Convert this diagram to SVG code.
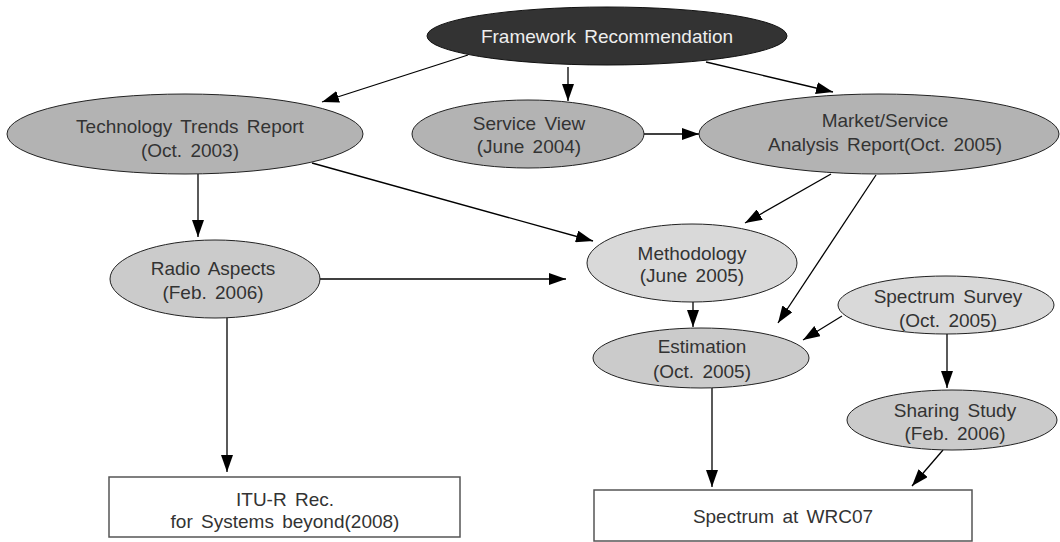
<svg xmlns="http://www.w3.org/2000/svg" width="1060" height="542" viewBox="0 0 1060 542">
<style>
text{font-family:"Liberation Sans",Arial,sans-serif;font-size:19px;word-spacing:3px;fill:#333;text-anchor:middle}
.dark{fill:#333;stroke:#111;stroke-width:1}
.mid{fill:#b3b3b3;stroke:#222;stroke-width:1}
.soft{fill:#cbcbcb;stroke:#222;stroke-width:1}
.light{fill:#d9d9d9;stroke:#222;stroke-width:1}
.box{fill:#fff;stroke:#555;stroke-width:1.5}
.w{fill:#eee}
#connectors line{stroke:#000;stroke-width:1.3;marker-end:url(#ah)}
</style>
<defs>
<marker id="ah" markerUnits="userSpaceOnUse" markerWidth="17" markerHeight="12" refX="17" refY="6" orient="auto">
<path d="M0,0 L17,6 L0,12 z" fill="#000"/>
</marker>
</defs>
<rect width="1060" height="542" fill="#fff"/>
<g id="connectors">
<line x1="468" y1="55" x2="322" y2="102"/>
<line x1="568" y1="67" x2="568" y2="101"/>
<line x1="706" y1="62" x2="833" y2="92"/>
<line x1="644" y1="134" x2="699" y2="134"/>
<line x1="198" y1="174" x2="198" y2="237"/>
<line x1="312" y1="163" x2="593" y2="241"/>
<line x1="831" y1="174" x2="745" y2="223"/>
<line x1="876" y1="175" x2="778" y2="323"/>
<line x1="319" y1="279" x2="566" y2="279"/>
<line x1="693" y1="302" x2="693" y2="327"/>
<line x1="842" y1="316" x2="803" y2="340"/>
<line x1="947" y1="334" x2="947" y2="388"/>
<line x1="712" y1="388" x2="712" y2="487"/>
<line x1="943" y1="450" x2="912" y2="486"/>
<line x1="227" y1="318" x2="227" y2="472"/>
</g>
<g id="framework">
<ellipse class="dark" cx="607" cy="36" rx="180" ry="29"/>
<text class="w" x="607" y="42.5">Framework Recommendation</text>
</g>
<g id="tech">
<ellipse class="mid" cx="185" cy="134" rx="178" ry="40"/>
<text x="190" y="133">Technology Trends Report</text>
<text x="190" y="157">(Oct. 2003)</text>
</g>
<g id="service">
<ellipse class="mid" cx="528" cy="134" rx="116" ry="34"/>
<text x="529" y="130">Service View</text>
<text x="529" y="153">(June 2004)</text>
</g>
<g id="market">
<ellipse class="mid" cx="879" cy="134" rx="180" ry="40"/>
<text x="885" y="127">Market/Service</text>
<text x="885" y="151">Analysis Report(Oct. 2005)</text>
</g>
<g id="methodology">
<ellipse class="light" cx="692" cy="263" rx="105" ry="39"/>
<text x="692" y="260">Methodology</text>
<text x="692" y="282">(June 2005)</text>
</g>
<g id="radio">
<ellipse class="soft" cx="215" cy="279" rx="105" ry="39"/>
<text x="213" y="275">Radio Aspects</text>
<text x="213" y="299">(Feb. 2006)</text>
</g>
<g id="survey">
<ellipse class="light" cx="946" cy="305" rx="108" ry="29"/>
<text x="948" y="303">Spectrum Survey</text>
<text x="948" y="327">(Oct. 2005)</text>
</g>
<g id="estimation">
<ellipse class="soft" cx="701" cy="358" rx="108" ry="30"/>
<text x="702" y="353">Estimation</text>
<text x="702" y="378">(Oct. 2005)</text>
</g>
<g id="sharing">
<ellipse class="soft" cx="952" cy="420" rx="105" ry="30"/>
<text x="955" y="417">Sharing Study</text>
<text x="955" y="440">(Feb. 2006)</text>
</g>
<g id="itu">
<rect class="box" x="109" y="477" width="351" height="60"/>
<text x="285" y="506">ITU-R Rec.</text>
<text x="285" y="528">for Systems beyond(2008)</text>
</g>
<g id="wrc">
<rect class="box" x="594" y="490" width="378" height="51"/>
<text x="783" y="523">Spectrum at WRC07</text>
</g>
</svg>
